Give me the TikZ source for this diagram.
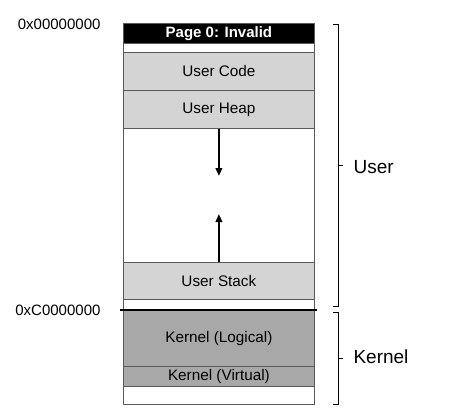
\documentclass[tikz,border=0pt]{standalone}
\usepackage{fontspec}
\setmainfont{Liberation Sans}
\usetikzlibrary{arrows.meta}
\definecolor{lightseg}{RGB}{212,212,212}
\definecolor{darkseg}{RGB}{168,168,168}
\definecolor{segline}{RGB}{90,90,90}
\begin{document}
\begin{tikzpicture}[x=1pt,y=-1pt,
  seg/.style={draw=segline,line width=0.8pt,minimum width=191pt,inner sep=0pt,anchor=north west,font=\fontsize{15.3}{15}\selectfont},
  addr/.style={anchor=east,font=\fontsize{15}{15}\selectfont},
  growarrow/.style={line width=2.6pt,-{Triangle[length=8pt,width=6.5pt]}},
  brace/.style={line width=0.9pt},
  region/.style={anchor=west,font=\fontsize{19}{19}\selectfont}]
\useasboundingbox (0,0) rectangle (470,416);
% address space column
\node[seg,fill=black,text=white,minimum height=20pt,font=\bfseries\fontsize{15}{15}\selectfont] (p0) at (123,23) {Page 0: Invalid};
\node[seg,fill=white,minimum height=9pt] (gap0) at (123,43) {};
\node[seg,fill=lightseg,minimum height=38pt] (code) at (123,52) {User Code};
\node[seg,fill=lightseg,minimum height=38pt] (heap) at (123,90) {User Heap};
\node[seg,fill=white,minimum height=134pt] (free) at (123,128) {};
\node[seg,fill=lightseg,minimum height=37pt] (stack) at (123,262) {User Stack};
\node[seg,fill=white,minimum height=11pt] (gap1) at (123,299) {};
\node[seg,fill=darkseg,minimum height=56pt] (klog) at (123,310) {Kernel (Logical)};
\node[seg,fill=darkseg,minimum height=20pt] (kvirt) at (123,366) {Kernel (Virtual)};
\node[seg,fill=white,minimum height=18pt] (kfree) at (123,386) {};
% user/kernel split
\coordinate (splitL) at (120,310);
\coordinate (splitR) at (317,310);
\draw[line width=2.6pt] (splitL) -- (splitR);
% growth arrows, straight down from the heap and up from the stack
\coordinate (heapEnd) at (heap.south |- 0,176);
\coordinate (stackEnd) at (stack.north |- 0,214);
\draw[growarrow] (heap.south) -- (heapEnd);
\draw[growarrow] (stack.north) -- (stackEnd);
% addresses
\node[addr] (a0) at (104,24) {0x00000000};
\node[addr] (ac) at (104,310) {0xC0000000};
% region braces
\draw[brace] (333,24) -- (338,24) -- (338,306) -- (333,306);
\draw[brace] (338,165) -- (343,165);
\node[region] (user) at (350,167) {User};
\draw[brace] (333,312) -- (338,312) -- (338,404) -- (333,404);
\draw[brace] (338,358) -- (343,358);
\node[region] (kernel) at (350,357) {Kernel};
\end{tikzpicture}
\end{document}
